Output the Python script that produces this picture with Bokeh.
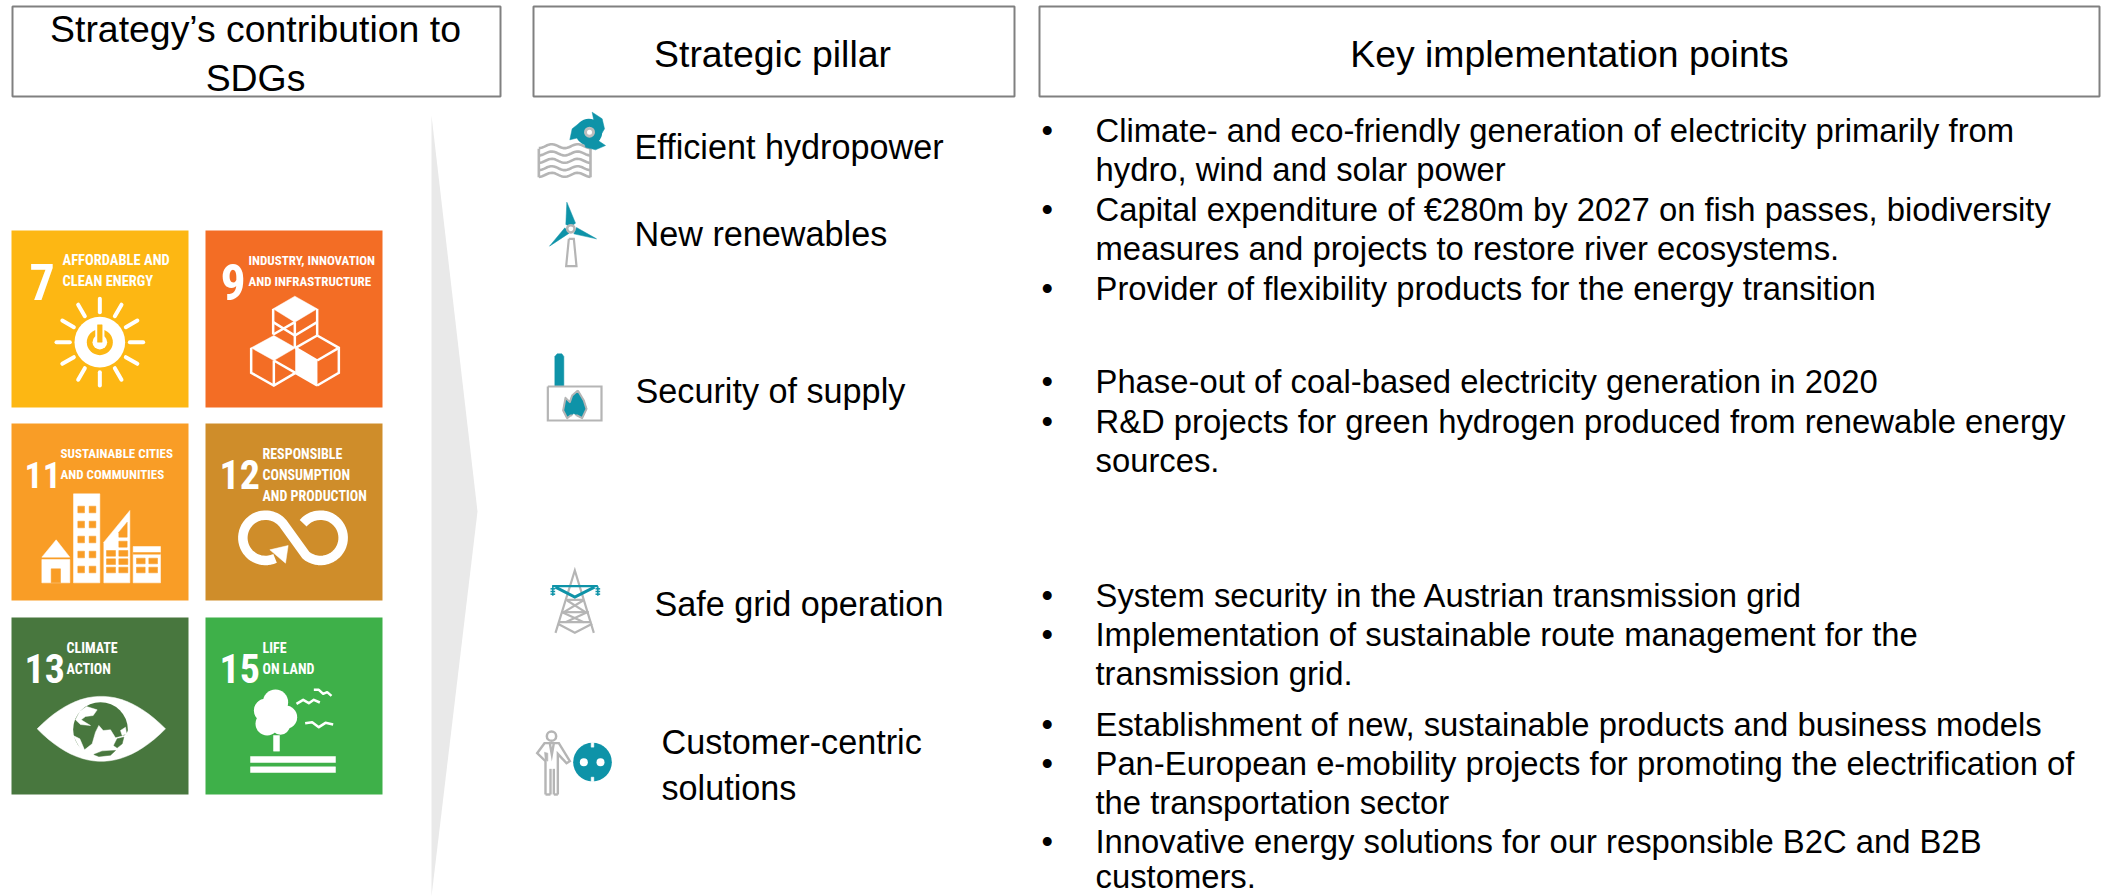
import numpy as np
from bokeh.plotting import figure
from bokeh.models import Range1d
from bokeh.embed import file_html
from bokeh.resources import INLINE
from bokeh.core.properties import value

# ---------- content ----------
headers = ["Strategy\u2019s contribution to", "SDGs", "Strategic pillar", "Key implementation points"]
sdg_numbers = ["7", "9", "11", "12", "13", "15"]
sdg_labels = [["AFFORDABLE AND", "CLEAN ENERGY"], ["INDUSTRY, INNOVATION", "AND INFRASTRUCTURE"],
              ["SUSTAINABLE CITIES", "AND COMMUNITIES"], ["RESPONSIBLE", "CONSUMPTION", "AND PRODUCTION"],
              ["CLIMATE", "ACTION"], ["LIFE", "ON LAND"]]
sdg_colors = ["#FDB713", "#F36D25", "#F99D26", "#CF8D2A", "#48773E", "#3EB049"]
pillars = ["Efficient hydropower", "New renewables", "Security of supply", "Safe grid operation",
           "Customer-centric", "solutions"]
bullets = [
    (True, "Climate- and eco-friendly generation of electricity primarily from"),
    (False, "hydro, wind and solar power"),
    (True, "Capital expenditure of \u20ac280m by 2027 on fish passes, biodiversity"),
    (False, "measures and projects to restore river ecosystems."),
    (True, "Provider of flexibility products for the energy transition"),
    (True, "Phase-out of coal-based electricity generation in 2020"),
    (True, "R&D projects for green hydrogen produced from renewable energy"),
    (False, "sources."),
    (True, "System security in the Austrian transmission grid"),
    (True, "Implementation of sustainable route management for the"),
    (False, "transmission grid."),
    (True, "Establishment of new, sustainable products and business models"),
    (True, "Pan-European e-mobility projects for promoting the electrification of"),
    (False, "the transportation sector"),
    (True, "Innovative energy solutions for our responsible B2C and B2B"),
    (False, "customers."),
]

# ---------- layout ----------
header_boxes = [(12, 500), (533, 1014), (1039, 2099)]
header_pos = [(255, 28), (255, 77), (772, 53), (1569, 53)]
tile_x = [11, 205, 11, 205, 11, 205]
tile_y = [230, 230, 423, 423, 617, 617]
TILE = 177
num_pos = [(29, 281), (220, 281), (24, 474), (219, 474), (24, 668), (219, 668)]
num_size = [50, 50, 36, 40, 40, 40]
label_pos = [(62, [260, 281]), (248, [260, 281]), (60, [453, 474]), (262, [453, 474, 495]),
             (66, [647, 668]), (262, [647, 668])]
label_size = [14.5, 13, 13, 14, 14, 14]
pillar_pos = [(634, 146), (634, 233), (635, 390), (654, 603), (661, 741), (661, 787)]
bullet_y = [130, 169, 209, 248, 288, 381, 421, 460, 595, 634, 673, 724, 763, 802, 841, 876]

BODY = value("Liberation Sans")
COND = value("Roboto Condensed")
TEAL, GRAY = "#0E93A8", "#B5B5B5"

p = figure(width=2102, height=896, x_range=Range1d(0, 2102), y_range=Range1d(896, 0),
           output_backend="svg", toolbar_location=None, min_border=0,
           x_axis_type=None, y_axis_type=None, outline_line_color=None,
           background_fill_color="white", border_fill_color="white")
p.margin = (0, 0, 0, 0)
p.grid.visible = False


def z(o, pts):
    return [o[0] + x / 3 for x, y in pts], [o[1] + y / 3 for x, y in pts]


def poly(o, pts, c):
    x, y = z(o, pts)
    p.patch(x, y, fill_color=c, line_color=c, line_width=0.5)


def line(o, pts, c, w, cap="butt", join="miter"):
    x, y = z(o, pts)
    p.line(x, y, line_color=c, line_width=w, line_cap=cap, line_join=join)


def dot(o, cx, cy, r, fill, stroke=None, w=0):
    p.circle([o[0] + cx / 3], [o[1] + cy / 3], radius=r / 3, fill_color=fill,
             line_color=stroke, line_width=w)


def box(o, x0, x1, y0, y1, c):
    poly(o, [(x0, y0), (x1, y0), (x1, y1), (x0, y1)], c)


def bez(a, b, c, n=24):
    t = np.linspace(0, 1, n)
    return [((1 - s) ** 2 * a[0] + 2 * s * (1 - s) * b[0] + s ** 2 * c[0],
             (1 - s) ** 2 * a[1] + 2 * s * (1 - s) * b[1] + s ** 2 * c[1]) for s in t]


def arc(cx, cy, r, a0, a1, n=40):
    return [(cx + r * np.cos(np.radians(a)), cy + r * np.sin(np.radians(a))) for a in np.linspace(a0, a1, n)]


# header boxes
for (l, r) in header_boxes:
    p.quad(left=[l], right=[r], top=[6], bottom=[96], fill_color=None, line_color="#808080", line_width=2)
for t, (x, y) in zip(headers, header_pos):
    p.text([x], [y], text=[t], text_font=BODY, text_font_size="37.4px", text_align="center",
           text_baseline="middle", text_color="#000000")

# big arrow
p.patch([431, 477, 431], [115, 511, 896], fill_color="#E9E9E9", line_color=None)

# SDG tiles
for i in range(6):
    x, y = tile_x[i], tile_y[i]
    p.quad(left=[x], right=[x + TILE], top=[y], bottom=[y + TILE], fill_color=sdg_colors[i], line_color=None)
    p.text([num_pos[i][0]], [num_pos[i][1]], text=[sdg_numbers[i]], text_font=COND, text_font_style="bold",
           text_font_size=f"{num_size[i]}px", text_color="white", text_baseline="alphabetic")
    lx, lys = label_pos[i]
    for s, ly in zip(sdg_labels[i], lys):
        p.text([lx], [ly], text=[s], text_font=COND, text_font_style="bold", text_font_size=f"{label_size[i]}px",
               text_color="white", text_baseline="alphabetic")

# tile 7: sun
o = (0, 210)
c7 = sdg_colors[0]
for a in np.arange(0, 360, 30):
    ca, sa = np.cos(np.radians(a)), np.sin(np.radians(a))
    line(o, [(298 + 90 * ca, 395 + 90 * sa), (298 + 130 * ca, 395 + 130 * sa)], "white", 4, cap="round")
dot(o, 298, 395, 76, "white")
dot(o, 298, 395, 39, c7)
dot(o, 298, 395, 22, "white")
box(o, 285, 311, 338, 395, "white")
box(o, 291, 305, 343, 395, c7)

# tile 9: cubes
o = (0, 210)
poly(o, [(883, 257), (950, 295), (883, 335), (818, 295)], "white")
poly(o, [(820, 375), (885, 412), (820, 450), (752, 412)], "white")
poly(o, [(885, 412), (950, 450), (950, 525), (885, 487)], "white")
for seg in [[(818, 295), (818, 372)], [(950, 295), (950, 375)], [(883, 335), (883, 412)],
            [(818, 372), (883, 335)], [(950, 375), (885, 412)], [(818, 335), (883, 375), (950, 335)],
            [(752, 412), (752, 487), (820, 525), (885, 487)], [(820, 450), (820, 525)],
            [(820, 450), (885, 487)], [(950, 375), (1015, 412), (1015, 487), (950, 525)],
            [(950, 450), (1015, 412)], [(950, 450), (885, 412)], [(885, 487), (950, 525)]]:
    line(o, seg, "white", 2.5)

# tile 11: city
o = (0, 410)
c11 = sdg_colors[2]
poly(o, [(124, 440), (167, 388), (208, 440)], "white")
box(o, 124, 208, 447, 517, "white")
box(o, 152, 180, 475, 517, c11)
box(o, 219, 298, 250, 517, "white")
for wy in [287, 332, 377, 422, 467]:
    for wx in [232, 266]:
        box(o, wx, wx + 20, wy, wy + 20, c11)
poly(o, [(310, 517), (310, 395), (388, 300), (388, 517)], "white")
for wy in [420, 445, 470]:
    for wx in [318, 355]:
        box(o, wx, wx + 27, wy, wy + 17, c11)
box(o, 355, 380, 392, 410, c11)
poly(o, [(355, 380), (380, 380), (380, 335), (355, 365)], c11)
box(o, 398, 480, 408, 517, "white")
box(o, 398, 480, 426, 431, c11)
for wy in [443, 470]:
    for wx in [408, 445]:
        box(o, wx, wx + 26, wy, wy + 17, c11)

# tile 12: infinity
o = (0, 410)
path = arc(795, 382, 68, 65, 320) + arc(960, 382, 68, 130, -140)
line(o, path, "white", 9.5, join="round")
poly(o, [(808, 418), (863, 405), (855, 458)], "white")

# tile 13: eye and globe
o = (0, 410)
poly(o, bez((110, 955), (302, 760), (495, 955)) + bez((495, 955), (302, 1150), (110, 955)), "white")
g = (60, 680)
c13 = sdg_colors[4]
dot(g, 120, 147, 82, c13)
for pts in [[(45, 118), (58, 92), (78, 78), (110, 88), (98, 105), (75, 108), (62, 118), (90, 135), (60, 132)],
            [(38, 165), (58, 175), (72, 208), (95, 190), (105, 155), (115, 135), (128, 150), (150, 148),
             (165, 172), (192, 165), (205, 150), (195, 195), (170, 225), (120, 232), (70, 225)],
            [(180, 150), (195, 140), (198, 160), (185, 165)]]:
    poly(g, pts, "white")
poly(g, [(100, 222), (125, 212), (165, 210), (150, 224), (115, 228)], c13)
poly(g, [(160, 195), (170, 175), (190, 170), (185, 190), (170, 202)], c13)

# tile 15: tree and birds
o = (0, 410)
for cx, cy, r in [(825, 875, 38), (795, 900, 35), (855, 920, 35), (800, 940, 35), (840, 945, 28)]:
    dot(o, cx, cy, r, "white")
box(o, 819, 837, 975, 1022, "white")
box(o, 750, 1005, 1038, 1056, "white")
box(o, 750, 1005, 1069, 1086, "white")
for bird in [[(888, 880), (908, 868), (925, 878), (940, 868), (958, 876)],
             [(940, 838), (955, 838), (968, 850), (980, 845), (993, 856)],
             [(914, 938), (935, 935), (955, 950), (975, 937), (998, 942)]]:
    line(o, bird, "white", 2.5, join="round")

# hydropower icon
o = (520, 100)
for wy in [137, 159, 181, 203, 223]:
    wave = [(x, wy + 6 * np.cos((x - 55) / 155 * 4 * np.pi)) for x in np.arange(55, 211, 5)]
    line(o, wave, GRAY, 2.6, join="round")
line(o, [(55, 145), (55, 230)], GRAY, 2.6)
line(o, [(210, 145), (210, 230)], GRAY, 2.6)
dot(o, 205, 95, 40, TEAL)
for pts in [[(215, 35), (245, 55), (252, 85), (240, 105), (222, 70)],
            [(255, 135), (225, 148), (195, 140), (190, 120), (225, 115)],
            [(148, 118), (155, 85), (180, 65), (200, 70), (180, 110)]]:
    poly(o, pts, TEAL)
dot(o, 207, 95, 12, "white", "#BDBDBD", 3)

# wind turbine icon
o = (520, 100)
poly(o, [(139, 305), (165, 368), (150, 378), (136, 372)], TEAL)
poly(o, [(87, 437), (133, 382), (146, 398)], TEAL)
poly(o, [(228, 415), (168, 381), (160, 400)], TEAL)
dot(o, 151, 385, 11, "white", GRAY, 2.5)
line(o, [(145, 415), (160, 415), (168, 497), (137, 497), (145, 415)], GRAY, 2.2)

# security-of-supply icon
o = (520, 340)
poly(o, [(103, 138), (103, 48), (110, 40), (124, 40), (130, 48), (130, 138)], TEAL)
line(o, [(82, 138), (243, 138), (243, 240), (82, 240), (82, 138)], GRAY, 2.2)
flame = [(172, 150), (190, 180), (198, 205), (185, 233), (170, 225), (150, 225), (140, 233), (128, 210),
         (135, 172), (148, 185), (155, 165)]
poly(o, flame, TEAL)
line(o, flame + flame[:1], GRAY, 2, join="round")
poly(o, [(150, 235), (160, 220), (172, 235)], "white")

# grid-tower icon
o = (520, 570)
for seg in [[(105, 187), (163, 0), (220, 187)], [(135, 88), (190, 88)], [(140, 90), (195, 125)],
            [(188, 90), (130, 125)], [(122, 125), (205, 125)], [(125, 125), (190, 155)],
            [(200, 125), (135, 155)], [(115, 155), (212, 155)], [(112, 160), (163, 187), (215, 160)]]:
    line(o, seg, GRAY, 2.2)
line(o, [(95, 47), (232, 47)], TEAL, 2.2)
line(o, [(105, 50), (163, 80), (222, 50)], TEAL, 3)
for ix in [97, 232]:
    line(o, [(ix, 47), (ix, 76)], TEAL, 1.5)
    for iy in [55, 63, 71]:
        line(o, [(ix - 7, iy), (ix + 7, iy)], TEAL, 1.5)

# customer icon
dot(o, 93, 497, 14, "white", GRAY, 2.5)
for seg in [[(75, 672), (75, 572), (50, 548), (72, 518), (115, 518), (148, 572), (138, 578), (112, 550), (112, 672)],
            [(90, 595), (90, 672)], [(100, 595), (100, 672)], [(75, 672), (90, 672)], [(100, 672), (112, 672)],
            [(88, 518), (94, 552), (100, 518)]]:
    line(o, seg, GRAY, 2.4)
poly(o, [(72, 545), (82, 548), (82, 572), (74, 568)], GRAY)
dot(o, 216, 575, 58, TEAL)
dot(o, 190, 575, 12, "white")
dot(o, 240, 575, 12, "white")
box(o, 212, 220, 516, 530, "white")
box(o, 212, 220, 620, 634, "white")

# pillar labels
for s, (x, y) in zip(pillars, pillar_pos):
    p.text([x], [y], text=[s], text_font=BODY, text_font_size="34.2px", text_baseline="middle",
           text_color="#000000")

# bullets
for (b, s), y in zip(bullets, bullet_y):
    if b:
        p.text([1041], [y], text=["\u2022"], text_font=BODY, text_font_size="32.8px", text_baseline="middle",
               text_color="#000000")
    p.text([1095], [y], text=[s], text_font=BODY, text_font_size="32.8px", text_baseline="middle",
           text_color="#000000")

open("out.html", "w").write(file_html(p, INLINE))
